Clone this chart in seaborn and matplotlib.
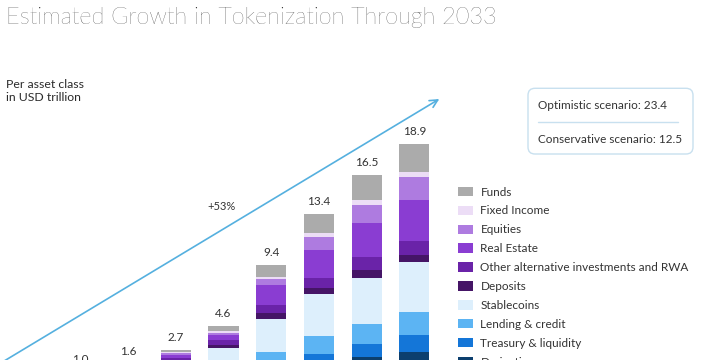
"""Estimated growth in tokenization through 2033 (stacked bars)."""

import matplotlib.pyplot as plt
import numpy as np
import pandas as pd
import seaborn as sns
from matplotlib.lines import Line2D
from matplotlib.patches import FancyBboxPatch, Patch

years = ["2025", "2026", "2027", "2028", "2029", "2030", "2031", "2032", "2033"]
totals = [0.6, 1.0, 1.6, 2.7, 4.6, 9.4, 13.4, 16.5, 18.9]

# top of the stack first
classes = [
    "Funds", "Fixed Income", "Equities", "Real Estate",
    "Other alternative investments and RWA", "Deposits", "Stablecoins",
    "Lending & credit", "Treasury & liquidity", "Derivatives",
]
funds = [0.03, 0.05, 0.10, 0.15, 0.4, 0.9, 1.5, 2.0, 2.2]
fixed_income = [0.01, 0.02, 0.03, 0.05, 0.1, 0.2, 0.3, 0.4, 0.4]
equities = [0.02, 0.03, 0.07, 0.15, 0.2, 0.5, 1.0, 1.4, 1.8]
real_estate = [0.03, 0.05, 0.10, 0.25, 0.4, 1.5, 2.2, 2.7, 3.2]
other_alt = [0.03, 0.05, 0.10, 0.20, 0.4, 0.7, 0.8, 1.0, 1.1]
deposits = [0.03, 0.05, 0.05, 0.10, 0.2, 0.4, 0.5, 0.6, 0.6]
stablecoins = [0.25, 0.40, 0.60, 0.90, 1.4, 2.6, 3.3, 3.6, 3.9]
lending = [0.08, 0.15, 0.25, 0.40, 0.6, 1.0, 1.4, 1.6, 1.8]
treasury = [0.05, 0.07, 0.10, 0.20, 0.4, 0.6, 0.9, 1.0, 1.3]
derivatives = [0.07, 0.13, 0.20, 0.30, 0.5, 1.0, 1.5, 2.2, 2.6]

colors = [
    "#ABABAB", "#ECDDF6", "#AE7BE0", "#8A3DD2", "#6A23A8",
    "#451566", "#DDEFFC", "#5CB4F3", "#1476D8", "#0C3F6E",
]

segments = [funds, fixed_income, equities, real_estate, other_alt,
            deposits, stablecoins, lending, treasury, derivatives]
df = pd.DataFrame(np.array(segments).T, columns=classes)
df.insert(0, "year", years)

sns.set_style("white")
plt.rcParams["font.family"] = ["Lato", "DejaVu Sans"]
TEXT = "#333333"

fig = plt.figure(figsize=(7.26, 3.6), dpi=100)
ax = fig.add_axes([0, 0, 1, 1])

# overlapping cumulative bars, tallest (full total) first
for i, (name, color) in enumerate(zip(classes, colors)):
    cum = df[classes[i:]].sum(axis=1)
    sns.barplot(x=df["year"], y=cum, color=color, width=0.63,
                saturation=1, linewidth=0, edgecolor="none", ax=ax,
                order=years)

ax.bar_label(ax.containers[0], labels=[f"{t:.1f}" for t in totals],
             padding=5, fontsize=8.5, color=TEXT)

# chart is cut at the bottom in the reference
ax.set_position([0, -24.8 / 360, 1, 384.8 / 360])
ax.set_ylim(0, 384.8 / 12.74)
ax.set_xlim(-32.7 / 47.7, (726 - 32.7) / 47.7)
ax.axis("off")

fig.text(6 / 726, 1 - 18 / 360, "Estimated Growth in Tokenization Through 2033",
         fontsize=16.9, fontweight="light", color="#222222", va="center")
fig.text(6 / 726, 1 - 91 / 360, "Per asset class\nin USD trillion",
         fontsize=8.8, color="#2a2a2a", va="center", linespacing=1.25)

ax.annotate("", xy=(439.3 / 726, 1 - 99 / 360), xytext=(0, 1 - 363.5 / 360),
            xycoords="figure fraction", textcoords="figure fraction",
            arrowprops=dict(arrowstyle="->", color="#55B0DF", lw=1.2,
                            mutation_scale=14, shrinkA=0, shrinkB=0),
            annotation_clip=False)
fig.text(222 / 726, 1 - 207 / 360, "+53%", fontsize=8, color=TEXT,
         ha="center", va="center")

# scenario box
box = FancyBboxPatch((5.28, 2.06), 1.65, 0.657,
                     boxstyle="round,pad=0,rounding_size=0.07",
                     transform=fig.dpi_scale_trans, fc="white",
                     ec="#C8E0EF", lw=1)
fig.patches.append(box)
fig.lines.append(Line2D([538 / 726, 678 / 726], [1 - 121.7 / 360] * 2,
                        transform=fig.transFigure, color="#C8E0EF", lw=1))
fig.text(538 / 726, 1 - 105 / 360, "Optimistic scenario: 23.4",
         fontsize=8.5, color=TEXT, va="center")
fig.text(538 / 726, 1 - 139.5 / 360, "Conservative scenario: 12.5",
         fontsize=8.5, color=TEXT, va="center")

handles = [Patch(facecolor=c, edgecolor="none") for c in colors]
fig.legend(handles, classes, loc="upper left",
           bbox_to_anchor=(458 / 726, 1 - 186.5 / 360), frameon=False,
           fontsize=8.5, handlelength=1.3, handleheight=0.85,
           handletextpad=0.6, labelspacing=0.67, borderpad=0,
           borderaxespad=0, labelcolor=TEXT)

fig.savefig("out.png", dpi=100)
